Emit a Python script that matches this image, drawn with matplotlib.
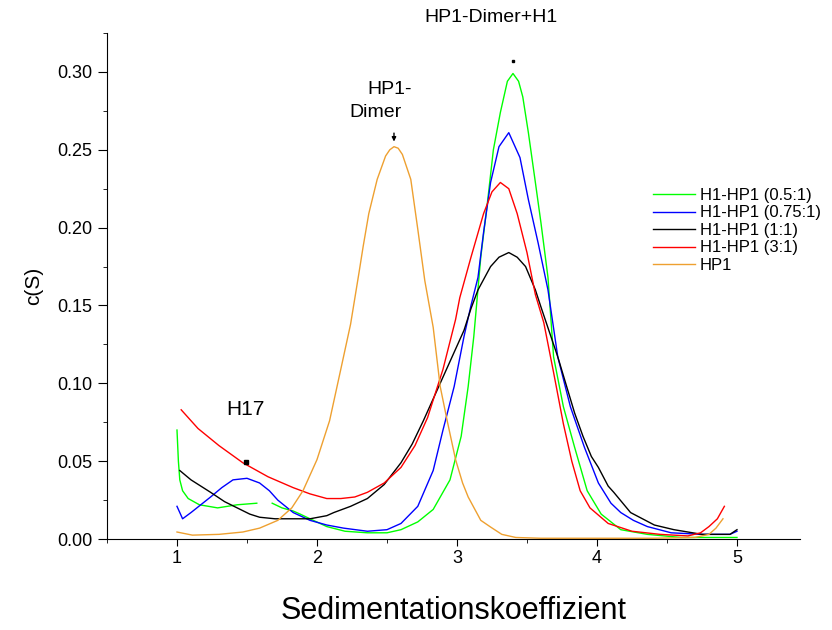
import matplotlib
matplotlib.use("Agg")
import matplotlib.pyplot as plt
from matplotlib.ticker import MultipleLocator
import numpy as np

plt.rcParams['font.family'] = ['Liberation Sans', 'DejaVu Sans']

# HP1 (orange)
hp1_x = [1.00, 1.11, 1.30, 1.47, 1.59, 1.72, 1.82, 1.90, 2.00, 2.09, 2.17, 2.24, 2.30, 2.33, 2.37,
         2.43, 2.49, 2.52, 2.55, 2.58, 2.61, 2.67, 2.72, 2.77, 2.83, 2.88, 2.93, 2.99, 3.04, 3.08,
         3.17, 3.24, 3.32, 3.42, 3.60, 4.00, 4.40, 4.70, 4.80, 4.85, 4.90]
hp1_y = [0.0045, 0.0025, 0.003, 0.0045, 0.007, 0.012, 0.020, 0.031, 0.051, 0.076, 0.109, 0.138,
         0.171, 0.188, 0.209, 0.231, 0.246, 0.250, 0.252, 0.251, 0.247, 0.231, 0.199, 0.166, 0.136,
         0.098, 0.076, 0.051, 0.036, 0.027, 0.012, 0.0077, 0.003, 0.001, 0.0005, 0.0005, 0.0005,
         0.001, 0.003, 0.007, 0.013]

# H1-HP1 (3:1) (red)
r31_x = [1.03, 1.15, 1.30, 1.47, 1.65, 1.83, 1.95, 2.07, 2.17, 2.27, 2.36, 2.48, 2.60, 2.70, 2.79,
         2.90, 2.99, 3.02, 3.10, 3.19, 3.25, 3.31, 3.37, 3.43, 3.50, 3.56, 3.62, 3.69, 3.76, 3.82,
         3.88, 3.95, 4.08, 4.25, 4.45, 4.65, 4.74, 4.80, 4.86, 4.91]
r31_y = [0.083, 0.071, 0.060, 0.049, 0.040, 0.033, 0.029, 0.026, 0.026, 0.027, 0.030, 0.036, 0.046,
         0.060, 0.078, 0.109, 0.141, 0.155, 0.181, 0.209, 0.223, 0.229, 0.225, 0.209, 0.184, 0.157,
         0.139, 0.107, 0.074, 0.050, 0.031, 0.020, 0.010, 0.005, 0.003, 0.002, 0.004, 0.008, 0.013,
         0.021]

# H1-HP1 (0.5:1) (green)
r05_x = [1.00, 1.01, 1.02, 1.04, 1.08, 1.16, 1.29, 1.43, 1.57, np.nan, 1.68, 1.75, 1.83, 1.88, 1.95,
         2.07, 2.20, 2.36, 2.50, 2.60, 2.72, 2.83, 2.95, 3.03, 3.08, 3.12, 3.17, 3.22, 3.26, 3.31,
         3.36, 3.40, 3.44, 3.47, 3.51, 3.56, 3.60, 3.65, 3.69, 3.76, 3.84, 3.93, 4.03, 4.17, 4.36,
         4.60, 4.80, 5.00]
r05_y = [0.070, 0.050, 0.038, 0.031, 0.026, 0.022, 0.020, 0.022, 0.023, np.nan, 0.023, 0.020, 0.018,
         0.016, 0.013, 0.008, 0.005, 0.004, 0.004, 0.006, 0.011, 0.019, 0.038, 0.066, 0.098, 0.130,
         0.181, 0.218, 0.250, 0.274, 0.294, 0.299, 0.294, 0.284, 0.261, 0.229, 0.203, 0.168, 0.117,
         0.085, 0.059, 0.031, 0.016, 0.006, 0.003, 0.001, 0.001, 0.001]

# H1-HP1 (0.75:1) (blue)
r075_x = [1.00, 1.04, 1.10, 1.17, 1.24, 1.32, 1.40, 1.50, 1.59, 1.66, 1.72, 1.83, 1.95, 2.07, 2.19,
          2.36, 2.50, 2.60, 2.72, 2.83, 2.90, 2.98, 3.05, 3.10, 3.15, 3.19, 3.24, 3.30, 3.37, 3.45,
          3.51, 3.58, 3.65, 3.72, 3.81, 3.91, 4.01, 4.10, 4.17, 4.26, 4.36, 4.53, 4.75, 4.95, 5.00]
r075_y = [0.021, 0.013, 0.017, 0.022, 0.027, 0.033, 0.038, 0.039, 0.036, 0.031, 0.025, 0.017, 0.012,
          0.009, 0.007, 0.005, 0.006, 0.010, 0.021, 0.044, 0.070, 0.098, 0.130, 0.150, 0.168, 0.197,
          0.229, 0.252, 0.261, 0.245, 0.218, 0.190, 0.160, 0.117, 0.085, 0.059, 0.036, 0.023, 0.017,
          0.012, 0.008, 0.004, 0.003, 0.003, 0.005]

# H1-HP1 (1:1) (black)
r11_x = [1.02, 1.10, 1.24, 1.34, 1.43, 1.52, 1.59, 1.70, 1.83, 1.95, 2.07, 2.12, 2.24, 2.36, 2.48,
         2.60, 2.68, 2.76, 2.83, 2.90, 2.98, 3.05, 3.10, 3.15, 3.24, 3.30, 3.37, 3.43, 3.49, 3.56,
         3.60, 3.66, 3.72, 3.78, 3.84, 3.90, 3.96, 4.01, 4.08, 4.12, 4.24, 4.41, 4.55, 4.75, 4.95,
         5.00]
r11_y = [0.044, 0.038, 0.030, 0.024, 0.020, 0.016, 0.014, 0.013, 0.013, 0.013, 0.015, 0.017, 0.021,
         0.026, 0.035, 0.049, 0.061, 0.076, 0.090, 0.104, 0.120, 0.134, 0.148, 0.160, 0.175, 0.181,
         0.184, 0.181, 0.175, 0.160, 0.149, 0.133, 0.117, 0.099, 0.081, 0.066, 0.053, 0.046, 0.034,
         0.030, 0.017, 0.009, 0.006, 0.003, 0.003, 0.006]

labels = ['H1-HP1 (0.5:1)', 'H1-HP1 (0.75:1)', 'H1-HP1 (1:1)', 'H1-HP1 (3:1)', 'HP1']

fig = plt.figure(figsize=(8.32, 6.30), dpi=100)
ax = fig.add_axes([0.1286, 0.1444, 0.8329, 0.8032])

ax.plot(r05_x, r05_y, color='#00ff00', lw=1.0, label=labels[0])
ax.plot(r075_x, r075_y, color='#0000ff', lw=1.0, label=labels[1])
ax.plot(r11_x, r11_y, color='black', lw=1.0, label=labels[2])
ax.plot(r31_x, r31_y, color='#ff0000', lw=1.0, label=labels[3])
ax.plot(hp1_x, hp1_y, color='#eea030', lw=1.0, label=labels[4])

ax.set_xlim(0.5, 5.45)
ax.set_ylim(0, 0.325)
ax.xaxis.set_major_locator(MultipleLocator(1))
ax.xaxis.set_minor_locator(MultipleLocator(0.5))
ax.yaxis.set_major_locator(MultipleLocator(0.05))
ax.yaxis.set_minor_locator(MultipleLocator(0.025))
ax.yaxis.set_major_formatter(matplotlib.ticker.FormatStrFormatter('%.2f'))
ax.spines['top'].set_visible(False)
ax.spines['right'].set_visible(False)
ax.tick_params(axis='y', which='major', direction='out', length=6.5, labelsize=13, pad=4)
ax.tick_params(axis='y', which='minor', direction='out', length=3)
ax.tick_params(axis='x', which='major', direction='out', length=5, labelsize=13, pad=3)
ax.tick_params(axis='x', which='minor', direction='out', length=3)

ax.set_ylabel('c(S)', fontsize=15, labelpad=10)
ax.set_xlabel('Sedimentationskoeffizient', fontsize=22, labelpad=21)

# annotations
ax.text(3.24, 0.335, 'HP1-Dimer+H1', fontsize=14, ha='center', va='center', clip_on=False)
ax.text(2.52, 0.289, 'HP1-', fontsize=14, ha='center', va='center')
ax.text(2.42, 0.274, 'Dimer', fontsize=14, ha='center', va='center')
ax.text(1.49, 0.083, 'H17', fontsize=15, ha='center', va='center')
ax.annotate('', xy=(2.55, 0.2535), xytext=(2.55, 0.2625),
            arrowprops=dict(arrowstyle='-|>', color='black', lw=1, mutation_scale=6))
ax.plot([3.40], [0.307], marker='s', color='black', ms=2)
ax.plot([1.49], [0.0495], marker='s', color='black', ms=3)

ax.legend(loc='upper left', bbox_to_anchor=(0.788, 0.694), frameon=False, fontsize=12,
          handlelength=2.5, handletextpad=0.3, labelspacing=0.15, borderpad=0, borderaxespad=0)

fig.savefig('out.png', dpi=100)
